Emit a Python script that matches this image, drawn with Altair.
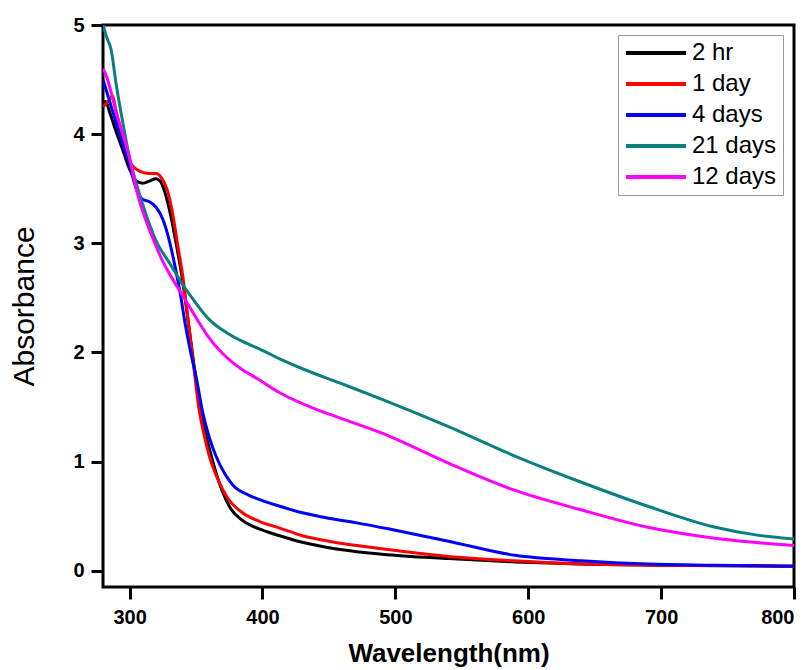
import altair as alt
import pandas as pd

# ---- data ----
series_names = ["2 hr", "1 day", "4 days", "21 days", "12 days"]
series_colors = ["#000000", "#ff0000", "#0000ff", "#0a7f7f", "#ff00ff"]

wl_2hr = [280, 282, 285, 290, 295, 300, 305, 310, 315, 320, 323, 327, 331, 335, 340, 345, 350, 355, 360,
          365, 370, 376, 385, 398, 413, 430, 450, 490, 540, 590, 640, 700, 800]
ab_2hr = [4.28, 4.30, 4.20, 4.02, 3.85, 3.68, 3.57, 3.55, 3.57, 3.59, 3.57, 3.45, 3.25, 3.00, 2.65, 2.20, 1.75, 1.38, 1.12,
          0.90, 0.72, 0.57, 0.46, 0.38, 0.32, 0.26, 0.21, 0.15, 0.11, 0.08, 0.06, 0.05, 0.04]

wl_1day = [280, 284, 287, 290, 295, 300, 305, 310, 315, 320, 324, 328, 332, 336, 340, 344, 348, 352, 356, 360,
           366, 373, 385, 398, 413, 430, 450, 490, 540, 590, 640, 700, 800]
ab_1day = [4.25, 4.30, 4.35, 4.20, 3.95, 3.75, 3.68, 3.65, 3.64, 3.64, 3.60, 3.50, 3.30, 3.00, 2.70, 2.30, 1.90, 1.50, 1.25, 1.05,
           0.85, 0.68, 0.53, 0.45, 0.39, 0.32, 0.27, 0.20, 0.13, 0.09, 0.06, 0.05, 0.04]

wl_4days = [280, 285, 290, 295, 300, 305, 310, 315, 320, 325, 330, 334, 338, 342, 346, 350, 355, 360, 365,
            372, 378, 390, 398, 413, 430, 450, 470, 500, 540, 590, 640, 690, 740, 800]
ab_4days = [4.50, 4.30, 4.10, 3.90, 3.72, 3.50, 3.40, 3.38, 3.33, 3.22, 3.02, 2.80, 2.55, 2.25, 2.00, 1.78, 1.45, 1.22, 1.05,
            0.88, 0.78, 0.69, 0.65, 0.59, 0.53, 0.48, 0.44, 0.37, 0.27, 0.14, 0.09, 0.06, 0.05, 0.04]

wl_21days = [280, 283, 286, 290, 295, 300, 305, 310, 320, 330, 340, 347, 360, 373, 385, 398, 413, 430, 458, 490,
             540, 590, 640, 690, 740, 770, 800]
ab_21days = [5.00, 4.88, 4.78, 4.45, 4.10, 3.78, 3.55, 3.35, 3.02, 2.82, 2.62, 2.50, 2.30, 2.18, 2.10, 2.03, 1.94, 1.85, 1.72, 1.57,
             1.32, 1.05, 0.81, 0.59, 0.40, 0.33, 0.29]

wl_12days = [280, 282, 290, 300, 306, 312, 318, 324, 330, 336, 345, 353, 360, 370, 385, 396, 413, 440, 458, 490,
             539, 589, 639, 689, 739, 770, 800]
ab_12days = [4.60, 4.55, 4.20, 3.78, 3.45, 3.22, 3.03, 2.86, 2.72, 2.60, 2.42, 2.26, 2.13, 1.99, 1.84, 1.76, 1.63, 1.48, 1.40, 1.26,
             0.99, 0.74, 0.56, 0.40, 0.30, 0.26, 0.23]

x_ticks = [300, 400, 500, 600, 700, 800]
y_ticks = [0, 1, 2, 3, 4, 5]

# ---- long table ----
rows = []
for name, wls, abs_ in [("2 hr", wl_2hr, ab_2hr), ("1 day", wl_1day, ab_1day), ("4 days", wl_4days, ab_4days),
                        ("21 days", wl_21days, ab_21days), ("12 days", wl_12days, ab_12days)]:
    for w, a in zip(wls, abs_):
        rows.append({"series": name, "wavelength": w, "absorbance": a})
df = pd.DataFrame(rows)

tick_font = "Liberation Sans, Arial, sans-serif"

chart = alt.Chart(df).mark_line(strokeWidth=3, interpolate="monotone", clip=True).encode(
    x=alt.X("wavelength:Q",
            scale=alt.Scale(domain=[280, 800], nice=False, zero=False),
            axis=alt.Axis(values=x_ticks, title="Wavelength(nm)", grid=False, domain=False,
                          tickSize=12, tickWidth=3, tickColor="black",
                          labelFont=tick_font, labelFontSize=20, labelFontWeight="bold", labelColor="black",
                          labelPadding=8,
                          titleFont=tick_font, titleFontSize=26, titleFontWeight="bold", titleColor="black",
                          titleY=66, titleBaseline="middle")),
    y=alt.Y("absorbance:Q",
            scale=alt.Scale(domain=[-0.15, 5], nice=False, zero=False),
            axis=alt.Axis(values=y_ticks, title="Absorbance", grid=False, domain=False,
                          tickSize=12, tickWidth=3, tickColor="black",
                          labelFont=tick_font, labelFontSize=20, labelFontWeight="bold", labelColor="black",
                          labelPadding=7,
                          titleFont=tick_font, titleFontSize=30, titleFontWeight="normal", titleColor="black",
                          titleX=-79, titleY=281, titleAngle=-90, titleAlign="center", titleBaseline="middle")),
    color=alt.Color("series:N",
                    scale=alt.Scale(domain=series_names, range=series_colors),
                    sort=series_names,
                    legend=alt.Legend(title=None, orient="none", legendX=515, legendY=10,
                                      symbolType="M-1,0H5", symbolSize=400, symbolStrokeWidth=4,
                                      labelFont=tick_font, labelFontSize=24, labelColor="black",
                                      labelOffset=44, rowPadding=7,
                                      padding=6, strokeColor="#999999")),
    order=alt.Order("wavelength:Q"),
).properties(
    width=691, height=562,
    padding={"left": 95, "top": 17, "right": 9, "bottom": 83},
    autosize=alt.AutoSizeParams(type="none"),
).configure_view(
    stroke="black", strokeWidth=3
)

chart.save("out.html", embed_options={"renderer": "svg", "actions": False})
